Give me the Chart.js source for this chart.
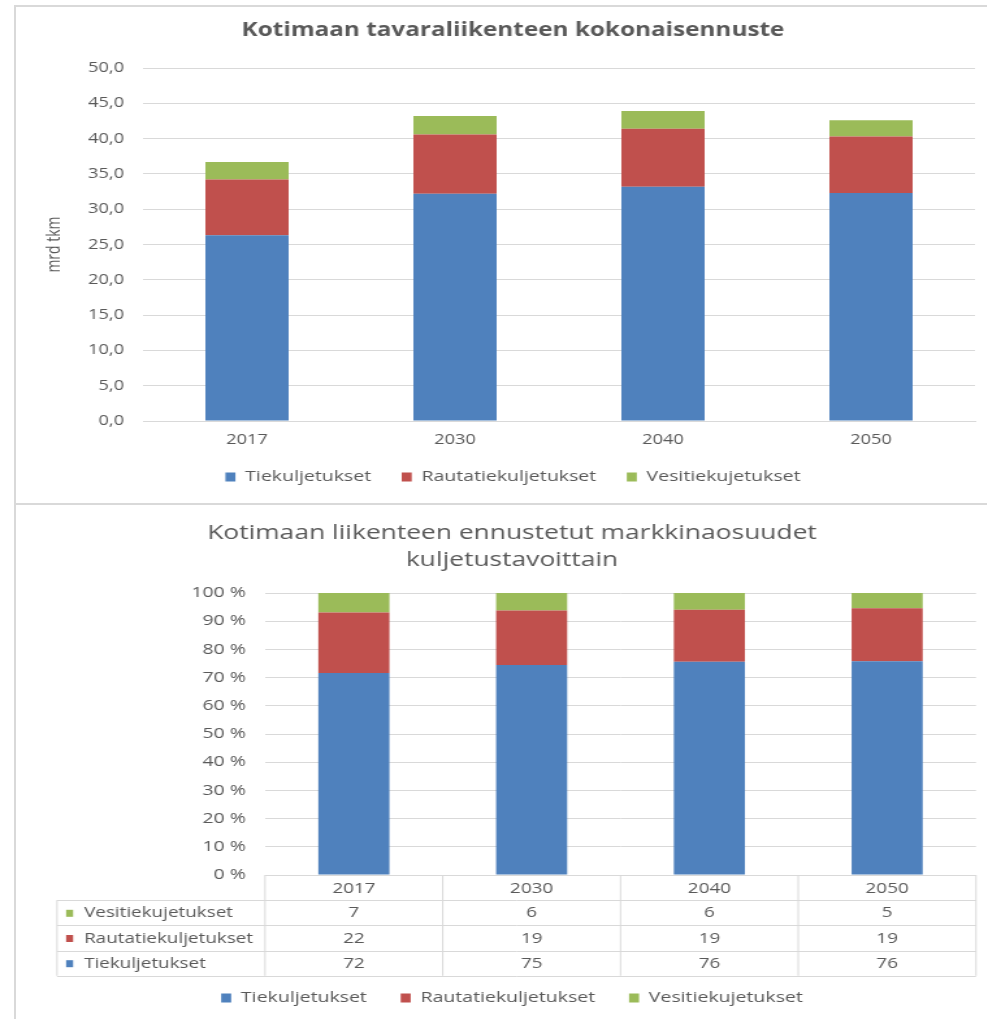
<!DOCTYPE html>
<html>
<head>
<meta charset="utf-8">
<script src="https://cdn.jsdelivr.net/npm/chart.js@4.4.1/dist/chart.umd.min.js"></script>
<style>
  body { margin: 0; background: #fff; width: 987px; height: 1019px; overflow: hidden; position: relative; }
  .wrap { position: absolute; left: 0; transform-origin: 0 0; }
  .line { position: absolute; background: #d9d9d9; z-index: 5; }
</style>
</head>
<body>
<div id="topWrap" class="wrap" style="top:0"><canvas id="topChart"></canvas></div>
<div id="botWrap" class="wrap" style="top:505px"><canvas id="botChart"></canvas></div>
<div class="line" style="left:14px;top:5px;width:2px;height:1014px"></div>
<div class="line" style="left:14px;top:5px;width:973px;height:2px"></div>
<div class="line" style="left:14px;top:503px;width:973px;height:2px"></div>

<script>
// Kotimaan tavaraliikenne: kokonaisennuste (mrd tkm) ja markkinaosuudet (%)
const years = ['2017', '2030', '2040', '2050'];
const seriesNames = ['Tiekuljetukset', 'Rautatiekuljetukset', 'Vesitiekujetukset'];
const seriesColors = ['#4f81bd', '#c0504d', '#9bbb59'];

// ylempi kaavio, mrd tkm
const tieMrd = [26.3, 32.2, 33.2, 32.3];
const rautaMrd = [7.9, 8.4, 8.2, 8.0];
const vesiMrd = [2.5, 2.6, 2.5, 2.3];

// alempi kaavio, osuudet %
const tieOsuus = [71.6, 74.5, 75.6, 75.8];
const rautaOsuus = [21.5, 19.3, 18.5, 18.8];
const vesiOsuus = [6.9, 6.2, 5.9, 5.4];

// taulukon pyöristetyt luvut
const tieTaulu = [72, 75, 76, 76];
const rautaTaulu = [22, 19, 19, 19];
const vesiTaulu = [7, 6, 6, 5];

const PAGE_W = 987;
const K = 1.3;   // alkuperäinen kuva on venytetty vaakasuunnassa
const GREY = '#595959', GRID = '#d9d9d9';
const FONT = "'Open Sans', sans-serif";

function setup(id, wrapId, h) {
  const c = document.getElementById(id);
  c.width = Math.round(PAGE_W / K);
  c.height = h;
  document.getElementById(wrapId).style.transform = `scaleX(${K})`;
  return c;
}

// ---------- ylempi ----------
(function () {
  const c = setup('topChart', 'topWrap', 520);
  const W = c.width;
  const areaL = 143 / K, areaR = 975 / K;
  const legendC = 513 / K;
  const pr = W - areaR;
  const pl = 2 * legendC - areaR;
  const yw = areaL - pl;

  new Chart(c, {
    type: 'bar',
    data: {
      labels: years,
      datasets: [
        { label: seriesNames[0], data: tieMrd, backgroundColor: seriesColors[0] },
        { label: seriesNames[1], data: rautaMrd, backgroundColor: seriesColors[1] },
        { label: seriesNames[2], data: vesiMrd, backgroundColor: seriesColors[2] }
      ]
    },
    options: {
      responsive: false, animation: false,
      layout: { padding: { left: pl, right: pr, top: 10, bottom: 25.5 } },
      datasets: { bar: { categoryPercentage: 1, barPercentage: 0.4, borderWidth: 0 } },
      plugins: {
        title: { display: true, text: 'Kotimaan tavaraliikenteen kokonaisennuste', color: GREY,
                 font: { family: FONT, size: 18.7, weight: 'bold', lineHeight: 1.2 }, padding: { top: 9.8, bottom: 25.8 } },
        legend: { position: 'bottom', labels: { color: GREY, font: { family: FONT, size: 15 }, boxWidth: 7.7, boxHeight: 9, padding: 23.5 } },
        tooltip: { enabled: false }
      },
      scales: {
        x: { stacked: true, grid: { display: false, drawTicks: false }, border: { display: true, color: GRID },
             ticks: { color: GREY, font: { family: FONT, size: 14, lineHeight: 1 }, padding: 12 },
             afterFit: s => { s.height = 25; } },
        y: { stacked: true, min: 0, max: 50,
             ticks: { stepSize: 5, color: GREY, font: { family: FONT, size: 14 }, padding: 14.6,
                      callback: v => v.toFixed(1).replace('.', ',') },
             grid: { color: GRID, drawTicks: false }, border: { display: false },
             title: { display: true, text: 'mrd tkm', color: GREY, font: { family: FONT, size: 14 }, padding: { top: 42.3 - pl - 8.4, bottom: 0 } },
             afterFit: s => { s.width = yw; } }
      }
    }
  });
})();

// ---------- alempi ----------
(function () {
  const c = setup('botChart', 'botWrap', 540);
  const W = c.width;
  const areaL = 265 / K, areaR = 976 / K;
  const legendC = 512 / K;
  const pr = W - areaR;
  const pl = 2 * legendC - areaR;
  const yw = areaL - pl;
  const ROW_H = 25.2;
  const tableL = 57 / K;
  const TXT = { family: FONT, size: 15 };

  const tableRows = [
    { name: seriesNames[2], color: seriesColors[2], values: vesiTaulu },
    { name: seriesNames[1], color: seriesColors[1], values: rautaTaulu },
    { name: seriesNames[0], color: seriesColors[0], values: tieTaulu }
  ];

  // Excelin arvotaulukko x-akselin alla
  const dataTable = {
    id: 'dataTable',
    afterDraw(chart) {
      const { ctx, chartArea: a, scales: { x } } = chart;
      const top = a.bottom;
      const colW = a.width / years.length;
      ctx.save();
      ctx.strokeStyle = GRID;
      ctx.lineWidth = 1;
      for (let r = 0; r <= 4; r++) {
        const y = Math.round(top + r * ROW_H) + 0.5;
        ctx.beginPath();
        ctx.moveTo(r === 0 ? a.left : tableL, y);
        ctx.lineTo(a.right, y);
        ctx.stroke();
      }
      for (let i = 0; i <= years.length; i++) {
        const lx = a.left + i * colW;
        ctx.beginPath();
        ctx.moveTo(lx, top);
        ctx.lineTo(lx, top + 4 * ROW_H);
        ctx.stroke();
      }
      ctx.beginPath();
      ctx.moveTo(tableL, top + ROW_H);
      ctx.lineTo(tableL, top + 4 * ROW_H);
      ctx.stroke();

      ctx.fillStyle = GREY;
      ctx.font = `14.5px ${FONT}`;
      ctx.textBaseline = 'middle';
      ctx.textAlign = 'center';
      years.forEach((y, i) => ctx.fillText(y, x.getPixelForValue(i), top + ROW_H / 2 + 1));
      tableRows.forEach((row, r) => {
        const cy = top + (r + 1.5) * ROW_H + 0.5;
        ctx.fillStyle = row.color;
        ctx.fillRect(tableL + 7, cy - 3.5, 5.4, 7);
        ctx.fillStyle = GREY;
        ctx.textAlign = 'left';
        ctx.fillText(row.name, tableL + 20.8, cy);
        ctx.textAlign = 'center';
        row.values.forEach((v, i) => ctx.fillText(String(v), x.getPixelForValue(i), cy));
      });
      ctx.restore();
    }
  };

  new Chart(c, {
    type: 'bar',
    data: {
      labels: years,
      datasets: [
        { label: seriesNames[0], data: tieOsuus, backgroundColor: seriesColors[0] },
        { label: seriesNames[1], data: rautaOsuus, backgroundColor: seriesColors[1] },
        { label: seriesNames[2], data: vesiOsuus, backgroundColor: seriesColors[2] }
      ]
    },
    options: {
      responsive: false, animation: false,
      layout: { padding: { left: pl, right: pr, top: 5, bottom: 29.5 } },
      datasets: { bar: { categoryPercentage: 1, barPercentage: 0.4, borderWidth: 0 } },
      plugins: {
        title: { display: true, text: ['Kotimaan liikenteen ennustetut markkinaosuudet', 'kuljetustavoittain'], color: GREY,
                 font: { family: FONT, size: 20.3, weight: 'normal', lineHeight: 27 / 20.3 }, padding: { top: 9.5, bottom: 19.5 } },
        legend: { position: 'bottom', labels: { color: GREY, font: TXT, boxWidth: 7.7, boxHeight: 9, padding: 26 } },
        tooltip: { enabled: false }
      },
      scales: {
        x: { stacked: true, ticks: { display: false }, grid: { display: false, drawTicks: false }, border: { display: false },
             afterFit: s => { s.height = 89.5; } },
        y: { stacked: true, min: 0, max: 100,
             ticks: { stepSize: 10, color: GREY, font: TXT, padding: 14.6, callback: v => v + ' %' },
             grid: { color: GRID, drawTicks: false }, border: { display: false },
             afterFit: s => { s.width = yw; } }
      }
    },
    plugins: [dataTable]
  });
})();
</script>
</body>
</html>
